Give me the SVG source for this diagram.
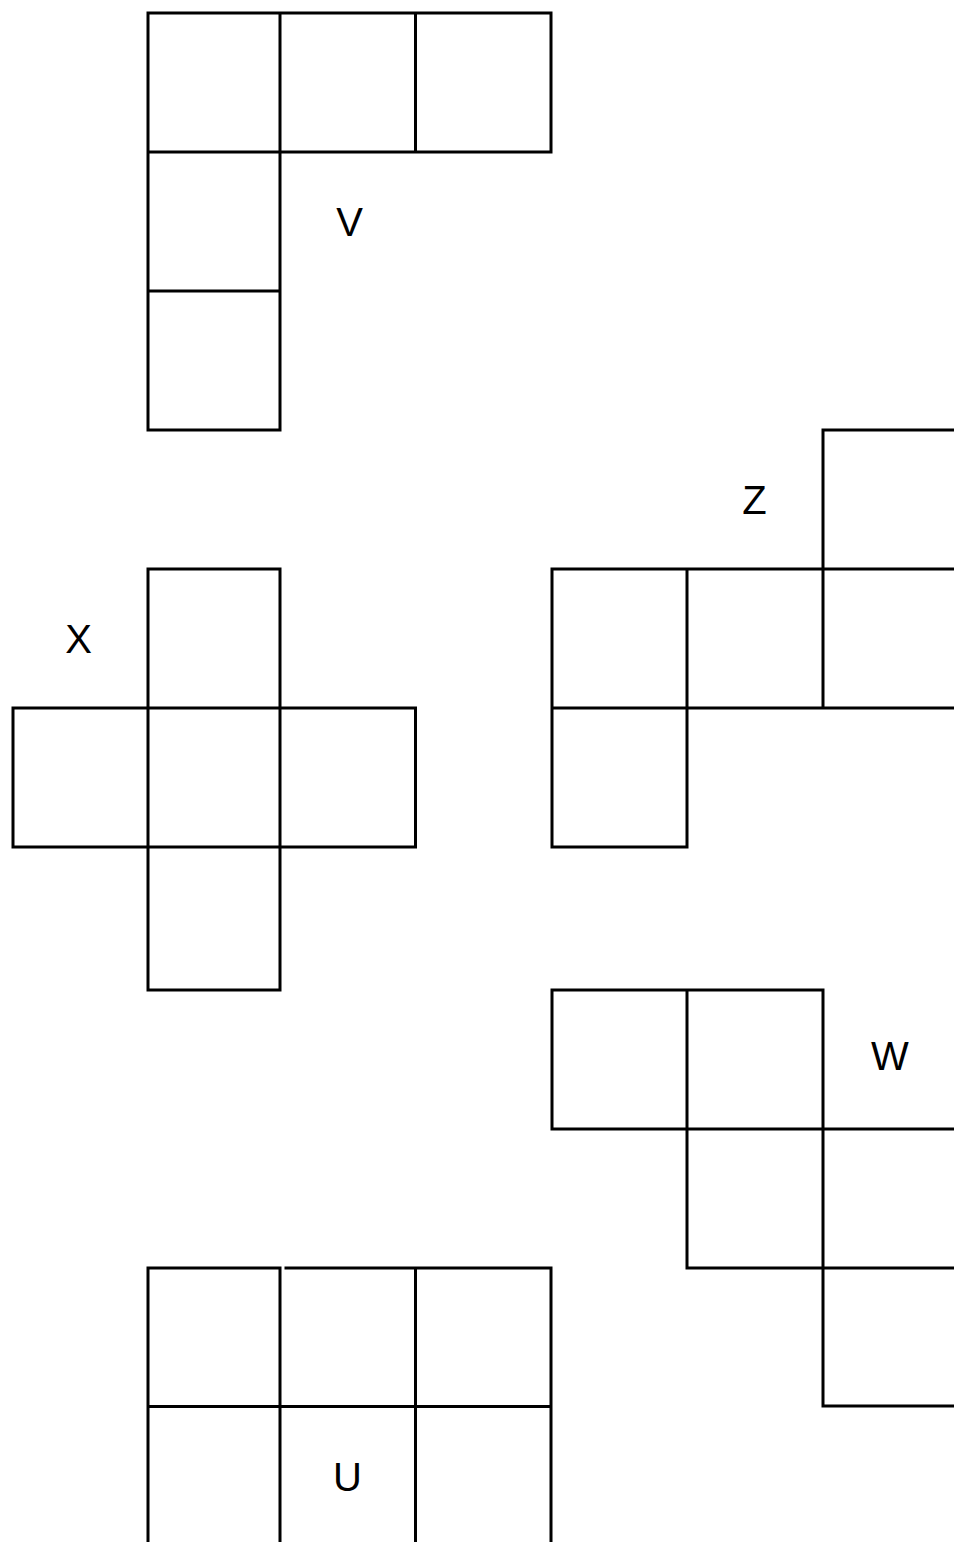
<svg xmlns="http://www.w3.org/2000/svg" width="954" height="1542" viewBox="0 0 954 1542">
<style>
.g{fill:none;stroke:#000;stroke-width:3;stroke-linecap:square}
.t{font-family:"Liberation Sans",Arial,sans-serif;font-size:40px;fill:#000;text-anchor:middle}
</style>
<rect width="954" height="1542" fill="#fff"/>
<g id="shape-v">
<path class="g" d="M148 13H551M148 152H551M148 291H280M148 430H280M148 13V430M280 13V430M415.5 13V152M551 13V152"/>
<text class="t" x="349.5" y="236">V</text>
</g>
<g id="shape-x">
<path class="g" d="M148 569H280M13 708H415.5M13 847H415.5M148 990H280M13 708V847M148 569V990M280 569V990M415.5 708V847"/>
<text class="t" x="78.5" y="653">X</text>
</g>
<g id="shape-z">
<path class="g" d="M823 430H956M552 569H956M552 708H956M552 847H687M552 569V847M687 569V847M823 430V708"/>
<text class="t" x="754.5" y="514">Z</text>
</g>
<g id="shape-w">
<path class="g" d="M552 990H823M552 1129H956M687 1268H956M823 1406H956M552 990V1129M687 990V1268M823 990V1406"/>
<text class="t" x="890" y="1070">W</text>
</g>
<g id="shape-u">
<path class="g" d="M148 1268H280M286 1268H551M148 1406.5H551M148 1268V1544M280 1268V1544M415.5 1268V1544M551 1268V1544"/>
<text class="t" x="347.5" y="1491">U</text>
</g>
<g id="connectors"></g>
</svg>
